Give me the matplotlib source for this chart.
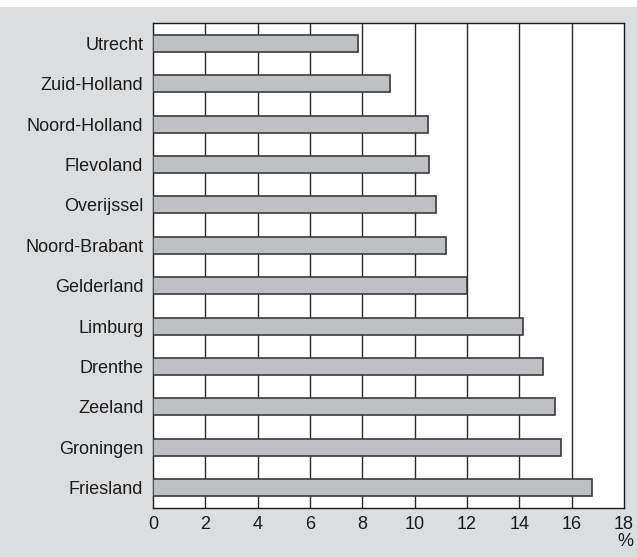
import matplotlib
matplotlib.use("Agg")
import matplotlib.pyplot as plt
from matplotlib.patches import Rectangle

provinces = ["Utrecht", "Zuid-Holland", "Noord-Holland", "Flevoland", "Overijssel",
             "Noord-Brabant", "Gelderland", "Limburg", "Drenthe", "Zeeland",
             "Groningen", "Friesland"]
values = [7.82, 9.05, 10.5, 10.55, 10.8, 11.2, 12.0, 14.15, 14.9, 15.35, 15.58, 16.79]
xticks = [0, 2, 4, 6, 8, 10, 12, 14, 16, 18]

plt.rcParams['font.family'] = ['Liberation Sans', 'DejaVu Sans']
FS = 13

fig = plt.figure(figsize=(6.37, 5.57), dpi=100)
fig.patch.set_facecolor('white')
fig.patches.append(Rectangle((0, 0), 1, 550/557, transform=fig.transFigure,
                             facecolor='#dcdddf', edgecolor='none', zorder=-10))
ax = fig.add_axes([153/637, 1-508/557, 471/637, 485/557])
ax.set_facecolor('white')

y = list(range(len(provinces)))
ax.barh(y, values, height=0.42, color='#bfc0c4', edgecolor='#3a3a3a', linewidth=1.2, zorder=3)
ax.set_ylim(len(provinces) - 0.5, -0.5)
ax.set_xlim(0, 18)
ax.set_yticks(y)
ax.set_yticklabels(provinces, fontsize=FS, color='#1a1a1a')
ax.set_xticks(xticks)
ax.set_xticklabels([str(t) for t in xticks], fontsize=FS, color='#1a1a1a')
ax.tick_params(axis='y', length=0, pad=7)
ax.tick_params(axis='x', length=0, pad=6)
for t in xticks[1:-1]:
    ax.axvline(t, color='#2a2a2a', linewidth=1.0, zorder=1)
for s in ax.spines.values():
    s.set_color('#1a1a1a')
    s.set_linewidth(1.0)
fig.text(625/637, 1-541/557, '%', ha='center', va='center', fontsize=FS, color='#1a1a1a')

fig.savefig('out.png', dpi=100, facecolor=fig.get_facecolor())
